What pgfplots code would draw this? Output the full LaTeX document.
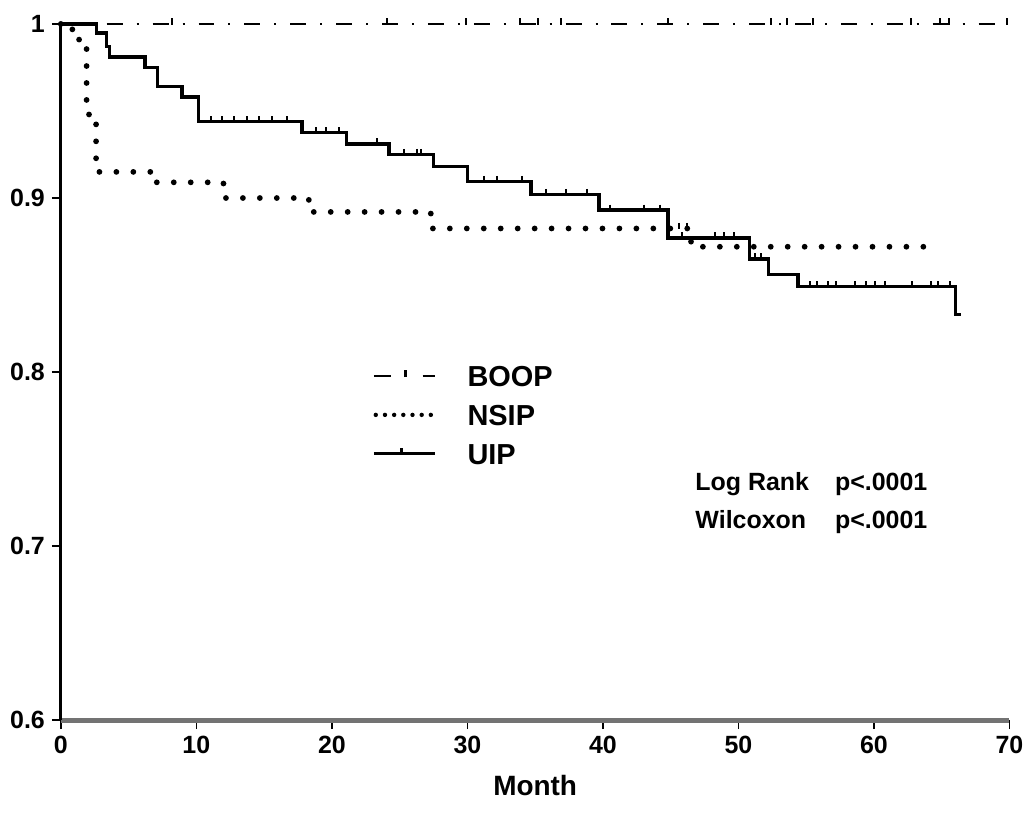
\documentclass[border=0pt]{standalone}
\usepackage{fontspec}
\setmainfont{Liberation Sans}
\usepackage{pgfplots}
\pgfplotsset{compat=1.18}
\begin{document}
\begin{tikzpicture}
\begin{axis}[name=ax,
  scale only axis, width=475.5pt, height=349pt,
  xmin=0, xmax=70, ymin=0.6, ymax=1,
  axis lines=left,
  x axis line style={-, line width=2.4pt, draw=black!55},
  y axis line style={-, line width=1.6pt, draw=black},
  xtick={0,10,...,70}, ytick={0.6,0.7,0.8,0.9,1},
  yticklabels={0.6,0.7,0.8,0.9,1},
  tick align=outside, major tick length=4.5pt,
  tick style={black, line width=0.8pt},
  /pgf/number format/assume math mode=true,
  ticklabel style={font=\bfseries\fontsize{12.5}{14}\selectfont},
  xlabel={Month}, xlabel style={font=\bfseries\fontsize{14}{16}\selectfont, yshift=-4pt},
  clip=false,
  legend style={at={(axis cs:22.96,0.804)}, anchor=north west, draw=none, fill=none,
    font=\bfseries\fontsize{14.5}{16}\selectfont, row sep=9pt, inner sep=0pt,
    nodes={inner sep=0pt, text height=10.5pt, text depth=0pt}},
  legend cell align=left,
]
% BOOP
\addplot[line width=1.2pt, black, dash pattern=on 8pt off 7pt on 1pt off 7pt,
  legend image code/.code={
    \draw[solid, line width=1.3pt] (0pt,0pt)--(8.5pt,0pt);
    \draw[solid, line width=1.3pt] (16pt,-0.6pt)--(16pt,2.8pt);
    \draw[solid, line width=1.3pt] (24.5pt,0pt)--(30.5pt,0pt);
    \path[draw=none] (0pt,0pt)--(47pt,0pt);}]
  coordinates {(0,1) (69.8,1)};
\addlegendentry{BOOP}
% NSIP
\addplot[const plot, black, line width=2.9pt, line cap=round, dash pattern=on 0pt off 8.5pt,
  legend image code/.code={
    \draw[line width=2.2pt, line cap=round, dash pattern=on 0pt off 4.6pt] (1pt,0pt)--(29pt,0pt);
    \path[draw=none] (0pt,0pt)--(47pt,0pt);}]
  coordinates {(0,1) (0.85,0.991) (1.9,0.948) (2.6,0.915) (6.9,0.909) (12.0,0.900)
    (18.3,0.892) (27.3,0.8825) (46.5,0.872) (64.3,0.872)};
\addlegendentry{NSIP}
% UIP
\addplot[const plot, black, line width=1.7pt,
  legend image code/.code={
    \draw[solid, line width=1.4pt] (0pt,0pt)--(30.5pt,0pt);
    \draw[solid, line width=1.3pt] (14pt,0pt)--(14pt,2.8pt);
    \path[draw=none] (0pt,0pt)--(47pt,0pt);}]
  coordinates {(0,1) (2.65,0.9948) (3.35,0.987) (3.6,0.981) (6.2,0.975) (7.15,0.964)
    (8.95,0.958) (10.15,0.9438) (17.8,0.9375) (21.1,0.931) (24.2,0.925) (27.5,0.918)
    (30.0,0.9095) (34.7,0.902) (39.7,0.893) (44.8,0.877) (50.8,0.865) (52.2,0.856)
    (54.4,0.849) (66.0,0.833) (66.4,0.833)};
\addlegendentry{UIP}
% censor marks UIP
\addplot[forget plot, only marks, black, mark=|, mark size=1.6pt,
  mark options={line width=1pt, yshift=1.2pt}]
  coordinates {(11.1,0.9438) (11.9,0.9438) (12.8,0.9438) (13.7,0.9438) (14.6,0.9438)
    (15.6,0.9438) (16.7,0.9438) (18.8,0.9375) (19.6,0.9375) (20.5,0.9375)
    (23.3,0.931) (25.3,0.925) (26.3,0.925) (26.6,0.925)
    (31.2,0.9095) (32.2,0.9095) (34.0,0.9095)
    (35.8,0.902) (37.3,0.902) (38.8,0.902)
    (40.5,0.893) (43.0,0.893) (44.2,0.893)
    (45.8,0.877) (48.3,0.877) (48.9,0.877) (49.7,0.877)
    (51.2,0.865) (51.7,0.865)
    (55.3,0.849) (55.8,0.849) (56.6,0.849) (57.2,0.849) (58.6,0.849) (59.4,0.849)
    (60.1,0.849) (60.8,0.849) (62.8,0.849) (64.2,0.849) (64.7,0.849) (65.6,0.849)};
% censor marks BOOP
\addplot[forget plot, only marks, black, mark=|, mark size=1.6pt,
  mark options={line width=1pt, yshift=1.2pt}]
  coordinates {(8.2,1) (24.1,1) (29.9,1) (33.9,1) (35.2,1) (36.9,1) (44.8,1)
    (52.4,1) (53.6,1) (55.5,1) (62.7,1) (64.9,1) (65.5,1) (69.8,1)};
% censor marks NSIP
\addplot[forget plot, only marks, black, mark=|, mark size=1.6pt,
  mark options={line width=1pt, yshift=1.2pt}]
  coordinates {(45.6,0.8825) (46.2,0.8825)};
\node[anchor=base west, inner sep=0pt, font=\bfseries\fontsize{12.5}{14}\selectfont] at (axis cs:46.8,0.7318) {Log Rank};
\node[anchor=base west, inner sep=0pt, font=\bfseries\fontsize{12.5}{14}\selectfont] at (axis cs:57.1,0.7318) {p<.0001};
\node[anchor=base west, inner sep=0pt, font=\bfseries\fontsize{12.5}{14}\selectfont] at (axis cs:46.8,0.7100) {Wilcoxon};
\node[anchor=base west, inner sep=0pt, font=\bfseries\fontsize{12.5}{14}\selectfont] at (axis cs:57.1,0.7100) {p<.0001};
\end{axis}
\path ([xshift=-30.5pt,yshift=-46.5pt]ax.south west) rectangle ([xshift=9pt,yshift=12pt]ax.north east);
\end{tikzpicture}
\end{document}
